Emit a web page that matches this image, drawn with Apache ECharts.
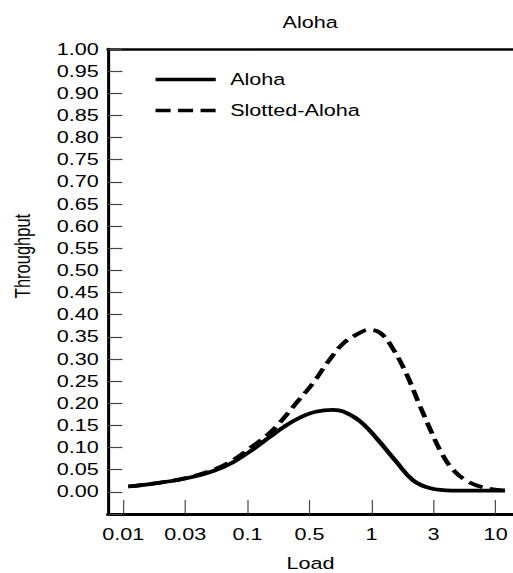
<!DOCTYPE html>
<html><head><meta charset="utf-8">
<script src="https://cdn.jsdelivr.net/npm/echarts@6/dist/echarts.min.js"></script>
<style>
html,body{margin:0;padding:0;background:#fff;overflow:hidden}
#wrap{width:513px;height:573px;overflow:hidden}
/* the reference figure is horizontally stretched; draw at 392px wide and stretch to 513px */
#c{width:392px;height:573px;transform:scaleX(1.3087);transform-origin:0 0}
</style>
</head><body><div id="wrap"><div id="c"></div></div>
<script>
// x positions are evenly spaced tick slots (0..6) labelled with load values
const xTickLabels = ['0.01', '0.03', '0.1', '0.5', '1', '3', '10'];
const alohaPos = [0.08, 0.6, 1.0, 1.45, 1.77, 2.09, 2.36, 2.6, 2.85, 3.1, 3.38, 3.55, 3.81, 4.1, 4.4, 4.67, 4.95, 5.3, 6.15];
const alohaVal = [0.012, 0.021, 0.030, 0.047, 0.067, 0.096, 0.124, 0.148, 0.168, 0.181, 0.185, 0.181, 0.160, 0.118, 0.068, 0.026, 0.008, 0.003, 0.003];
const slottedPos = [0.08, 0.6, 1.0, 1.45, 1.77, 2.05, 2.31, 2.52, 2.79, 3.06, 3.28, 3.55, 3.8, 3.95, 4.14, 4.35, 4.57, 4.75, 4.94, 5.12, 5.3, 5.53, 5.8, 6.15];
const slottedVal = [0.012, 0.021, 0.031, 0.050, 0.072, 0.100, 0.127, 0.156, 0.201, 0.246, 0.290, 0.336, 0.358, 0.366, 0.359, 0.322, 0.264, 0.204, 0.143, 0.090, 0.052, 0.025, 0.010, 0.003];
const yMin = -0.05, yMax = 1.0, yStep = 0.05;

const FONT = '"Liberation Sans", Arial, Helvetica, sans-serif';
const FS = 16.5;
const chart = echarts.init(document.getElementById('c'), null, {renderer: 'svg', width: 392, height: 573});
const zip = (a, b) => a.map((v, i) => [v, b[i]]);
chart.setOption({
  animation: false,
  backgroundColor: '#fff',
  textStyle: {fontFamily: FONT, color: '#000'},
  graphic: [
    {type: 'text', x: 237, y: 22, style: {text: 'Aloha', font: FS + 'px ' + FONT, fill: '#000', align: 'center', verticalAlign: 'middle'}},
    {type: 'text', x: 17, y: 256, rotation: Math.PI / 2, style: {text: 'Throughput', font: FS + 'px ' + FONT, fill: '#000', align: 'center', verticalAlign: 'middle'}}
  ],
  legend: {
    left: 117, top: 71, orient: 'vertical', padding: 0, itemWidth: 46, itemHeight: 14, itemGap: 14,
    itemStyle: {opacity: 0},
    lineStyle: {width: 3.7},
    textStyle: {fontSize: FS, fontFamily: FONT, color: '#000', padding: [0, 0, 0, 6]},
    data: ['Aloha', 'Slotted-Aloha']
  },
  grid: {left: 82.5, right: 0, top: 49, bottom: 59, containLabel: false, outerBoundsMode: 'none'},
  xAxis: [{
    type: 'value', min: -0.247, max: 6.28, interval: 1,
    axisLine: {show: true, onZero: false, lineStyle: {color: '#000', width: 3}},
    axisTick: {show: true, inside: true, length: 14, lineStyle: {color: '#444', width: 0.9},
      customValues: xTickLabels.map((_, i) => i)},
    axisLabel: {fontSize: FS, color: '#000', margin: 12, fontFamily: FONT,
      customValues: xTickLabels.map((_, i) => i),
      formatter: v => xTickLabels[Math.round(v)] ?? ''},
    splitLine: {show: false},
    name: 'Load', nameLocation: 'middle', nameGap: 41,
    nameTextStyle: {fontSize: FS, color: '#000', fontFamily: FONT}
  }, {
    type: 'value', position: 'top', min: -0.247, max: 6.28,
    axisLine: {show: true, onZero: false, lineStyle: {color: '#000', width: 2.5}},
    axisTick: {show: false}, axisLabel: {show: false}, splitLine: {show: false}
  }],
  yAxis: {
    type: 'value', min: yMin, max: yMax, interval: yStep,
    axisLine: {show: true, onZero: false, lineStyle: {color: '#000', width: 2.3}},
    axisTick: {show: true, inside: true, length: 11, lineStyle: {color: '#444', width: 1.2}},
    axisLabel: {fontSize: FS, color: '#000', margin: 7, fontFamily: FONT,
      formatter: v => (v < -0.001 ? '' : v.toFixed(2))},
    splitLine: {show: false}
  },
  series: [
    {name: 'Aloha', type: 'line', smooth: 0.4, symbol: 'none', xAxisIndex: 0,
      lineStyle: {color: '#000', width: 3.7}, itemStyle: {color: '#000'},
      data: zip(alohaPos, alohaVal)},
    {name: 'Slotted-Aloha', type: 'line', smooth: 0.4, symbol: 'none', xAxisIndex: 0,
      lineStyle: {color: '#000', width: 3.7, type: [11.5, 5.7]}, itemStyle: {color: '#000'},
      data: zip(slottedPos, slottedVal)}
  ]
});
</script></body></html>
